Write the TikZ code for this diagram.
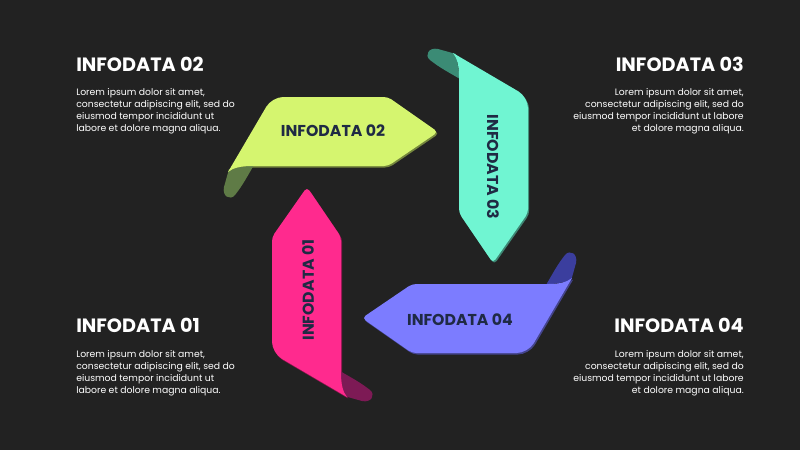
\documentclass[tikz,border=0pt]{standalone}
\usepackage{fontspec}
\setmainfont{Poppins}

\definecolor{bg}{HTML}{222222}
\definecolor{lime}{HTML}{D5F56F}
\definecolor{limedark}{HTML}{5F7B46}
\definecolor{mint}{HTML}{70F5D2}
\definecolor{mintdark}{HTML}{3B8B75}
\definecolor{rose}{HTML}{FF2A8E}
\definecolor{rosedark}{HTML}{7D1A55}
\definecolor{violet}{HTML}{7C7CFF}
\definecolor{violetdark}{HTML}{3B3E9E}
\definecolor{navy}{HTML}{1F2A44}

\tikzset{
  heading/.style={font=\bfseries\fontsize{13.7}{15}\selectfont, text=white, inner sep=0pt},
  body/.style={font=\fontsize{6.6}{8.55}\selectfont, text=white, inner sep=0pt},
  ribbonlabel/.style={font=\bfseries\fontsize{11.2}{12}\selectfont, text=navy, inner sep=0pt}
}

% one ribbon arrow, drawn pointing right above the centre
\newcommand{\ribbonface}{(-172,-53) [rounded corners=8pt] -- (-128,-128) [rounded corners=3pt] -- (-12,-128) -- (38,-93) -- (-12,-59) [sharp corners] -- (-148,-59) .. controls (-160,-59) and (-167,-57) .. (-172,-53) -- cycle}
\newcommand{\ribbonfold}{(-171,-56) -- (-176,-38) .. controls (-178,-29) and (-170,-24) .. (-165,-30) .. controls (-157,-40) and (-152,-50) .. (-146,-60) -- cycle}
\newcommand{\ribbon}[3]{%
  \fill[#2!55!black, shift={(401.2,226.5)}, rotate=#1] \ribbonface;
  \fill[#3, shift={(400,225)}, rotate=#1] \ribbonfold;
  \fill[#2, shift={(400,225)}, rotate=#1] \ribbonface;
}

\begin{document}
\begin{tikzpicture}[x=0.025cm, y=-0.025cm]
  % background
  \fill[bg] (0,0) rectangle (800,450);
  \useasboundingbox (0,0) rectangle (800,450);

  % ribbons
  \ribbon{0}{lime}{limedark}
  \ribbon{-90}{mint}{mintdark}
  \ribbon{-180}{violet}{violetdark}
  \ribbon{90}{rose}{rosedark}

  \node[ribbonlabel] (r2) at (333,131) {INFODATA 02};
  \node[ribbonlabel, rotate=-90] (r3) at (493,167) {INFODATA 03};
  \node[ribbonlabel] (r4) at (460,320) {INFODATA 04};
  \node[ribbonlabel, rotate=90] (r1) at (308,290) {INFODATA 01};

  % texts left
  \node[heading, anchor=base west] (h2) at (76,71) {INFODATA 02};
  \node[body, anchor=north west, align=left] (t2) at (76,88)
    {Lorem ipsum dolor sit amet,\\consectetur adipiscing elit, sed do\\eiusmod tempor incididunt ut\\labore et dolore magna aliqua.};
  \node[heading, anchor=base west] (h1) at (76,332) {INFODATA 01};
  \node[body, anchor=north west, align=left] (t1) at (76,350)
    {Lorem ipsum dolor sit amet,\\consectetur adipiscing elit, sed do\\eiusmod tempor incididunt ut\\labore et dolore magna aliqua.};

  % texts right
  \node[heading, anchor=base east] (h3) at (744,71) {INFODATA 03};
  \node[body, anchor=north east, align=right] (t3) at (744,88)
    {Lorem ipsum dolor sit amet,\\consectetur adipiscing elit, sed do\\eiusmod tempor incididunt ut labore\\et dolore magna aliqua.};
  \node[heading, anchor=base east] (h4) at (744,332) {INFODATA 04};
  \node[body, anchor=north east, align=right] (t4) at (744,350)
    {Lorem ipsum dolor sit amet,\\consectetur adipiscing elit, sed do\\eiusmod tempor incididunt ut labore\\et dolore magna aliqua.};
\end{tikzpicture}
\end{document}
